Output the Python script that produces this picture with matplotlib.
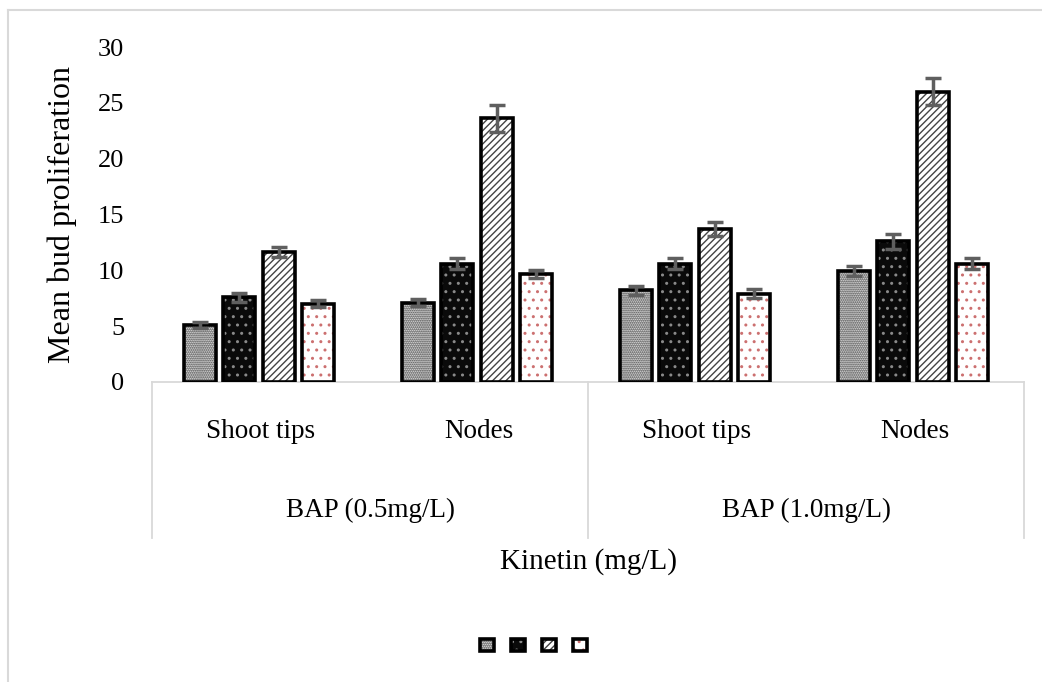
import numpy as np
import matplotlib
matplotlib.use("Agg")
import matplotlib.pyplot as plt
from matplotlib.lines import Line2D
import matplotlib.transforms as mtransforms

# data
categories = ["Shoot tips", "Nodes", "Shoot tips", "Nodes"]
groups = ["BAP (0.5mg/L)", "BAP (1.0mg/L)"]
series1 = [5.1, 7.1, 8.2, 9.9]
series2 = [7.6, 10.6, 10.6, 12.6]
series3 = [11.6, 23.6, 13.7, 26.0]
series4 = [7.0, 9.7, 7.9, 10.6]
err1 = [0.3, 0.3, 0.4, 0.45]
err2 = [0.4, 0.5, 0.5, 0.65]
err3 = [0.45, 1.2, 0.6, 1.2]
err4 = [0.3, 0.35, 0.4, 0.5]
yticks = [0, 5, 10, 15, 20, 25, 30]

plt.rcParams['font.family'] = ['Liberation Serif', 'DejaVu Serif']
plt.rcParams['hatch.linewidth'] = 1.0

fig = plt.figure(figsize=(10.42, 6.82), dpi=100)
ax = fig.add_axes([152/1042, 1 - 382/682, 872/1042, 335/682])

x = np.arange(len(categories))
width = 0.147
step = 0.181
offsets = np.array([-1.5, -0.5, 0.5, 1.5]) * step - 0.01

# fill styles: (face, hatch, hatch colour)
styles = [("white", "........", "#222222"),
          ("#0a0a0a", "..", "#8a8a8a"),
          ("white", "/////", "#444444"),
          ("white", "..", "#cc7070")]
values = [series1, series2, series3, series4]
errors = [err1, err2, err3, err4]

handles = []
for i, (vals, errs, (fc, hatch, hc)) in enumerate(zip(values, errors, styles)):
    pos = x + offsets[i]
    fill = ax.bar(pos, vals, width, color=fc, edgecolor=hc, hatch=hatch,
                  linewidth=0, zorder=2)
    edge = ax.bar(pos, vals, width, facecolor="none", edgecolor="black",
                  linewidth=2.6, zorder=3)
    ax.errorbar(pos, vals, yerr=errs, fmt="none", ecolor="#5f5f5f",
                elinewidth=2.5, capsize=5.5, capthick=2.5, zorder=4)
    handles.append((fill, edge))

ax.set_ylim(0, 30)
ax.set_xlim(-0.5, 3.5)
ax.set_yticks(yticks)
ax.tick_params(axis="y", length=0, pad=20, labelsize=19)
ax.set_xticks(x, categories)
ax.tick_params(axis="x", length=0, pad=27, labelsize=19.5)
for s in ax.spines.values():
    s.set_visible(False)

# category table lines under the axis
grey = "#d9d9d9"
trans = mtransforms.blended_transform_factory(ax.transData, ax.transAxes)
tb = -0.4657
ax.plot([-0.5, 3.5], [0, 0], color=grey, lw=1.3, transform=trans, clip_on=False)
for xv in [-0.5, 1.5, 3.5]:
    ax.plot([xv, xv], [0, tb], color=grey, lw=1.3, transform=trans, clip_on=False)
for gi, g in enumerate(groups):
    ax.text(0.5 + 2 * gi, -0.382, g, transform=trans, ha="center", va="center",
            fontsize=19.5)

ax.set_ylabel("Mean bud proliferation", fontsize=23)
ax.yaxis.set_label_coords(-0.103, 0.5)
ax.yaxis.label.set_va("center")
ax.set_xlabel("Kinetin (mg/L)", fontsize=21)
ax.xaxis.set_label_coords(0.5, -0.537)
ax.xaxis.label.set_va("center")

fig.legend(handles, ["", "", "", ""], loc="center", bbox_to_anchor=(0.512, 0.053),
           ncol=4, frameon=False, fontsize=10, handlelength=1.0, handleheight=1.0,
           handletextpad=0, columnspacing=1.25)

# outer light border (cropped on the right and bottom)
fig.add_artist(Line2D([8/1042, 8/1042], [0, 1 - 10/682], color=grey, lw=1.5))
fig.add_artist(Line2D([8/1042, 1], [1 - 10/682, 1 - 10/682], color=grey, lw=1.5))

fig.savefig("out.png", dpi=100)
